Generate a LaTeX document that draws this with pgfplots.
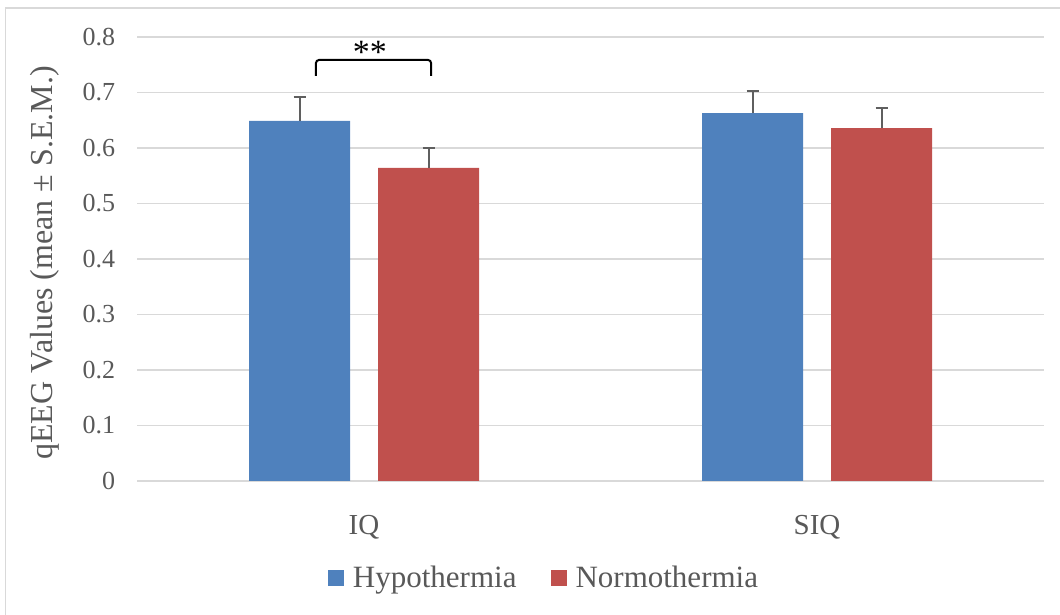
\documentclass[border=0pt]{standalone}
\usepackage{fontspec}
\setmainfont{Liberation Serif}
\usepackage{pgfplots}
\pgfplotsset{compat=1.18}
\definecolor{hypo}{HTML}{4F81BD}
\definecolor{normo}{HTML}{C0504D}
\definecolor{gridc}{HTML}{D9D9D9}
\definecolor{txt}{HTML}{595959}
\definecolor{errc}{HTML}{5F5F5F}
\begin{document}
\begin{tikzpicture}
\useasboundingbox (0,0) rectangle (530pt,307.5pt);
\draw[gridc, line width=0.8pt] (2.75pt,-10pt) -- (2.75pt,303.5pt) -- (545pt,303.5pt);
\begin{axis}[
  at={(68.75pt,67pt)}, anchor=south west,
  scale only axis, width=453pt, height=222pt,
  ybar=14pt, bar width=50.5pt,
  xmin=-0.5, xmax=1.5, ymin=0, ymax=0.8,
  xtick={0,1}, xticklabels={IQ,SIQ},
  ytick={0,0.1,...,0.8},
  yticklabel style={/pgf/number format/fixed, /pgf/number format/precision=1},
  /pgf/number format/assume math mode=true,
  ymajorgrids, major grid style={gridc, line width=0.8pt},
  axis line style={draw=none},
  tick style={draw=none},
  tick label style={font=\fontsize{13}{15}\selectfont, text=txt},
  yticklabel style={inner sep=0pt, xshift=-11pt, anchor=east},
  xticklabel style={inner sep=0pt, yshift=-12.5pt, anchor=north, font=\fontsize{14.5}{16}\selectfont},
  ylabel={qEEG Values (mean ± S.E.M.)},
  every axis y label/.style={at={(axis description cs:-0.1021,0.491)}, rotate=90, anchor=center,
    font=\fontsize{16}{18}\selectfont, text=txt},
  legend columns=2,
  legend style={at={(axis description cs:0.4498,-0.2185)}, anchor=center, draw=none, fill=none,
    font=\fontsize{15.5}{18}\selectfont, text=txt,
    /tikz/every even column/.append style={column sep=15pt},
    nodes={inner sep=2pt}},
  legend image code/.code={\fill[#1] (0pt,-4pt) rectangle (8pt,4pt); \path (10.5pt,0pt);},
  error bars/y dir=plus, error bars/y explicit,
  error bars/error bar style={errc, line width=1pt},
  error bars/error mark options={errc, rotate=90, mark size=3pt, line width=1pt},
]
\addplot[fill=hypo, draw=none] coordinates {(0,0.649) +- (0,0.043) (1,0.663) +- (0,0.040)};
\addplot[fill=normo, draw=none] coordinates {(0,0.564) +- (0,0.036) (1,0.636) +- (0,0.036)};
\legend{Hypothermia,Normothermia}
\draw[black, line width=1pt, rounded corners=1.5pt] (axis cs:-0.106,0.730) -- (axis cs:-0.106,0.7586) -- (axis cs:0.148,0.7586) -- (axis cs:0.148,0.730);
\node[black, font=\fontsize{17}{19}\selectfont, anchor=center, yshift=-2.7pt] at (axis cs:0.013,0.782) {**};
\end{axis}
\end{tikzpicture}
\end{document}
